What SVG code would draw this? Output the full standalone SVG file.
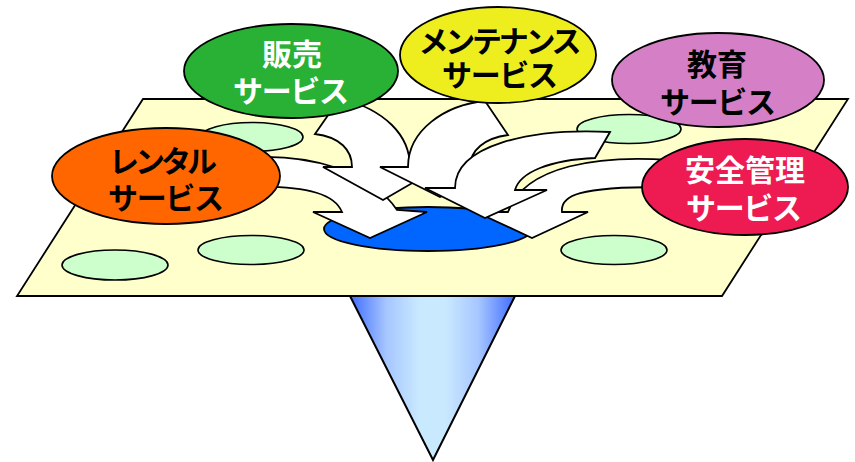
<svg xmlns="http://www.w3.org/2000/svg" width="855" height="462" viewBox="0 0 855 462">
  <defs>
    <linearGradient id="coneFill" x1="0" y1="0" x2="1" y2="0">
      <stop offset="0" stop-color="#3f6cff"/>
      <stop offset="0.22" stop-color="#a6c6ff"/>
      <stop offset="0.42" stop-color="#c9e9ff"/>
      <stop offset="0.58" stop-color="#c9e9ff"/>
      <stop offset="0.78" stop-color="#a6c6ff"/>
      <stop offset="1" stop-color="#3f6cff"/>
    </linearGradient>
    <style>
      .ol { stroke: #000; stroke-width: 1.8; stroke-linejoin: miter; }
      .spot { fill: #ccffcc; stroke: #000; stroke-width: 1.6; }
      .arrow { fill: #ffffff; stroke: #000; stroke-width: 1.8; stroke-linejoin: miter; }
      .lbl { font-family: "Noto Sans CJK JP", "Noto Sans CJK SC", sans-serif; font-size: 30px; font-weight: bold; text-anchor: middle; }
      .dark { fill: #000; }
      .light { fill: #fff; }
    </style>
  </defs>

  <!-- funnel below the platform -->
  <g id="cone">
    <polygon points="350,296 515,296 433,460" fill="url(#coneFill)"/>
    <polyline points="350,296 433,460 515,296" fill="none" stroke="#000" stroke-width="2"/>
  </g>

  <!-- platform -->
  <g id="platform">
    <polygon class="ol" points="143,99 848,99 722,296 17,296" fill="#ffffcc"/>
  </g>

  <!-- small spots on the platform -->
  <g id="spots">
    <ellipse class="spot" cx="252" cy="137" rx="51" ry="14.5"/>
    <ellipse class="spot" cx="251" cy="250" rx="53" ry="14.5"/>
    <ellipse class="spot" cx="115" cy="265" rx="53" ry="15"/>
    <ellipse class="spot" cx="629" cy="129" rx="52" ry="14.5"/>
    <ellipse class="spot" cx="614" cy="250" rx="53" ry="14.5"/>
  </g>

  <!-- central hole -->
  <g id="hole">
    <ellipse cx="428" cy="229" rx="104" ry="22" fill="#0066ff" stroke="#000" stroke-width="1.8"/>
  </g>

  <!-- curved arrows flowing into the hole -->
  <g id="connectors">
    <path id="arrow-rental" class="arrow" d="M255,157 C310,155 370,170 397,210 L427,212 L370,238 L313,212 L342,212 C335,195 310,186 255,187 Z"/>
    <path id="arrow-sales" class="arrow" d="M315,134 L340,98 C385,110 410,135 410,167 L440,167 L383,200 L323,167 L352,167 C352,150 340,137 315,134 Z"/>
    <path id="arrow-safety" class="arrow" d="M670,160 C600,155 525,165 508,212 L476,212 L532,238 L588,212 L562,212 C560,195 580,187 660,187 Z"/>
    <path id="arrow-maint" class="arrow" d="M485,101 L508,135 C485,138 470,150 470,167 L500,167 L440,197 L380,167 L408,167 C408,130 445,105 485,101 Z"/>
    <path id="arrow-edu" class="arrow" d="M610,132 C530,128 455,145 455,188 L425,188 L485,218 L547,190 L515,190 C520,172 550,160 595,158 Z"/>
  </g>

  <!-- service nodes -->
  <g id="node-sales">
    <ellipse class="ol" cx="291" cy="71" rx="107" ry="47" fill="#29b135"/>
    <text class="lbl light" x="292" y="65">販売</text>
    <text class="lbl light" x="291" y="102" textLength="116">サービス</text>
  </g>
  <g id="node-maint">
    <ellipse class="ol" cx="498" cy="55" rx="98" ry="48" fill="#eeee1e"/>
    <text class="lbl dark" x="500" y="52" textLength="163">メンテナンス</text>
    <text class="lbl dark" x="500" y="86" textLength="116">サービス</text>
  </g>
  <g id="node-edu">
    <ellipse class="ol" cx="718" cy="80" rx="106" ry="47" fill="#d580c6"/>
    <text class="lbl dark" x="717" y="75">教育</text>
    <text class="lbl dark" x="718" y="113" textLength="116">サービス</text>
  </g>
  <g id="node-rental">
    <ellipse class="ol" cx="166" cy="176" rx="114" ry="48" fill="#ff6600"/>
    <text class="lbl dark" x="163" y="172" textLength="108">レンタル</text>
    <text class="lbl dark" x="166" y="209" textLength="116">サービス</text>
  </g>
  <g id="node-safety">
    <ellipse class="ol" cx="745" cy="187" rx="103" ry="48" fill="#ee1a52"/>
    <text class="lbl light" x="745" y="181">安全管理</text>
    <text class="lbl light" x="744" y="219" textLength="116">サービス</text>
  </g>
</svg>
